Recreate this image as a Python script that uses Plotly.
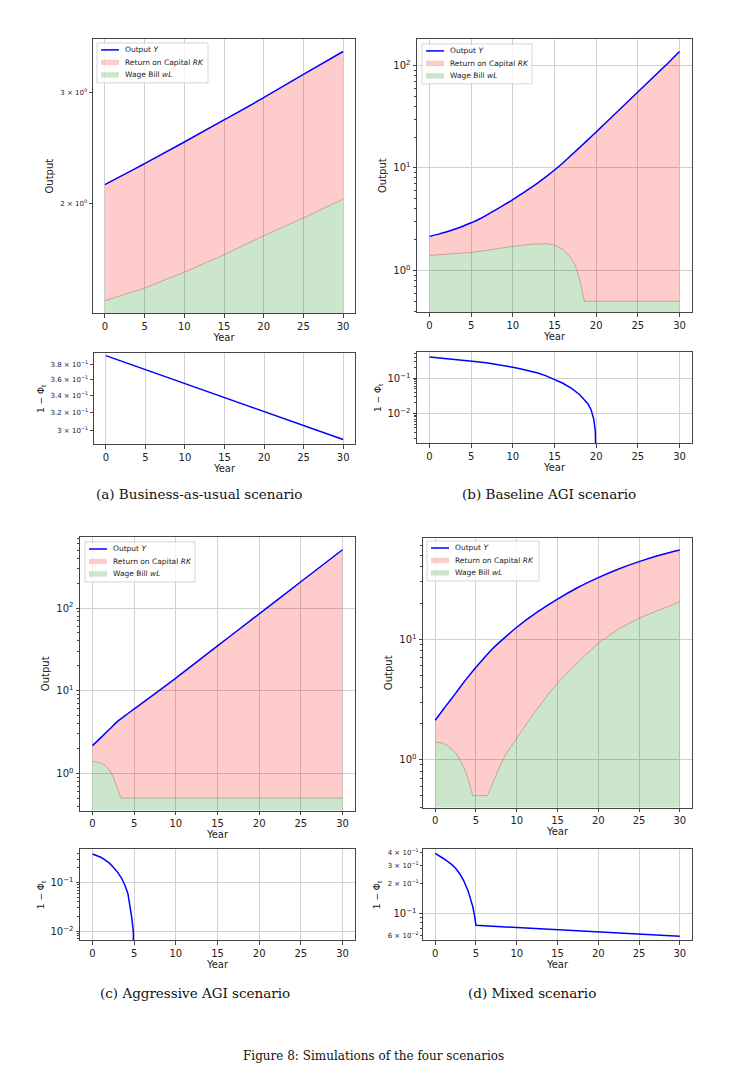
import plotly.graph_objects as go

W, H = 748, 1081

# ---- (a) Business-as-usual scenario
year_a = [0, 5, 10, 15, 20, 25, 30]
output_a = [2.14, 2.31, 2.50, 2.71, 2.94, 3.20, 3.48]
wage_a = [1.40, 1.466, 1.554, 1.656, 1.775, 1.894, 2.03]
phi_a = [0.3925, 0.3733, 0.3550, 0.3376, 0.3211, 0.3053, 0.2904]

# ---- (b) Baseline AGI scenario
year_b = list(range(0, 31))
output_b = [2.15, 2.25, 2.37, 2.52, 2.70, 2.92, 3.18, 3.53, 3.93, 4.39,
            4.92, 5.55, 6.28, 7.16, 8.24, 9.55, 11.2, 13.3, 15.8, 18.8,
            22.5, 26.9, 32.2, 38.5, 46.1, 55.2, 66.1, 79.1, 94.6, 113.5, 137.0]
wage_year_b = [0, 2.5, 5, 7.5, 10, 12.5, 14, 15, 16, 17, 17.5, 18, 18.3, 18.6, 30]
wage_b = [1.40, 1.44, 1.50, 1.60, 1.72, 1.81, 1.82, 1.77, 1.60, 1.32, 1.12, 0.82, 0.64, 0.50, 0.50]
phi_year_b = [0, 1, 2, 3, 4, 5, 6, 7, 8, 9, 10, 11, 12, 13, 14, 15, 16, 17, 18, 19,
              19.4, 19.7, 19.9, 20]
phi_b = [0.40, 0.382, 0.365, 0.348, 0.329, 0.31, 0.29, 0.27, 0.249, 0.228, 0.205,
         0.183, 0.162, 0.141, 0.117, 0.094, 0.0724, 0.0525, 0.0347, 0.019, 0.0126,
         0.0071, 0.0032, 0.0001]

# ---- (c) Aggressive AGI scenario
year_c = [0, 1, 2, 3, 4, 5, 10, 15, 20, 25, 30]
output_c = [2.16, 2.70, 3.38, 4.24, 5.05, 6.0, 14.2, 34.8, 85.0, 208.0, 508.0]
wage_year_c = [0, 1, 1.5, 2, 2.5, 2.9, 3.25, 3.5, 30]
wage_c = [1.40, 1.32, 1.24, 1.11, 0.895, 0.677, 0.552, 0.50, 0.50]
phi_year_c = [0, 0.5, 1, 1.5, 2, 2.5, 3, 3.5, 3.9, 4.25, 4.5, 4.7, 4.9, 5]
phi_c = [0.385, 0.359, 0.329, 0.292, 0.252, 0.206, 0.163, 0.122, 0.087, 0.059, 0.034,
         0.0195, 0.0098, 0.0001]

# ---- (d) Mixed scenario
year_d = [0, 1, 2, 3, 4, 5, 6, 7, 8, 10, 12.5, 15, 17.5, 20, 22.5, 25, 27.5, 30]
output_d = [2.12, 2.62, 3.20, 3.95, 4.84, 5.86, 7.0, 8.3, 9.6, 12.6, 16.8, 21.6,
            27.0, 32.6, 38.5, 44.3, 50.0, 55.3]
wage_year_d = [0, 1, 1.5, 2, 2.5, 3, 3.5, 4, 4.3, 4.6, 6.4, 7.3, 8.3, 9.1, 10, 11.25,
               12.5, 13.75, 15, 17.5, 20, 22.5, 25, 27.5, 30]
wage_d = [1.40, 1.36, 1.31, 1.23, 1.135, 1.0, 0.86, 0.70, 0.59, 0.50, 0.50, 0.70, 1.0,
          1.23, 1.49, 2.01, 2.65, 3.41, 4.32, 6.44, 9.27, 12.2, 15.0, 17.6, 20.5]
phi_year_d = [0, 1, 2, 2.5, 3, 3.5, 4, 4.3, 4.6, 4.8, 5, 10, 15, 20, 25, 30]
phi_d = [0.395, 0.352, 0.307, 0.281, 0.248, 0.211, 0.170, 0.144, 0.117, 0.097, 0.0759,
         0.0719, 0.0687, 0.0651, 0.0621, 0.0589]

captions = ["(a) Business-as-usual scenario", "(b) Baseline AGI scenario",
            "(c) Aggressive AGI scenario", "(d) Mixed scenario"]
figure_caption = "Figure 8: Simulations of the four scenarios"
legend_labels = ["Output <i>Y</i>", "Return on Capital <i>RK</i>", "Wage Bill <i>wL</i>"]
year_ticks = [0, 5, 10, 15, 20, 25, 30]

RED_FILL = "rgba(255,0,0,0.2)"
GREEN_FILL = "rgba(0,128,0,0.2)"
EDGE = "rgba(140,100,80,0.55)"
GRID = "#d0d0d0"
AXC = "#444444"
FONT = "DejaVu Sans"
SERIF = "DejaVu Serif"


def sup(s):
    return s.replace("^", "<sup>") + "</sup>"


def px(x):
    return x / W


def py(y):
    return 1 - y / H


# pixel boxes: (x0, x1, y0, y1), origin top-left
layout_cfg = [
    dict(top=(93, 355, 37, 312), bot=(94, 355, 352, 443),
         ytop=[0.126, 0.5615], ybot=[-0.5442, -0.4026],
         legend=(97, 41, 111), cap=(199, 493)),
    dict(top=(417, 692, 37, 311), bot=(417, 692, 351, 442),
         ytop=[-0.41, 2.26], ybot=[-2.84, -0.264],
         legend=(422, 42, 110), cap=(549, 493)),
    dict(top=(80, 355, 536, 810), bot=(80, 355, 849, 940),
         ytop=[-0.451, 2.86], ybot=[-2.185, -0.322],
         legend=(85, 541, 110), cap=(195, 993)),
    dict(top=(423, 692, 537, 807), bot=(423, 692, 849, 940),
         ytop=[-0.40, 1.843], ybot=[-1.27, -0.363],
         legend=(427, 540, 112), cap=(532, 993)),
]

data = [
    (year_a, output_a, year_a, wage_a, year_a, phi_a),
    (year_b, output_b, wage_year_b, wage_b, phi_year_b, phi_b),
    (year_c, output_c, wage_year_c, wage_c, phi_year_c, phi_c),
    (year_d, output_d, wage_year_d, wage_d, phi_year_d, phi_d),
]

minor_log = [m * 10 ** e for e in range(-3, 3) for m in range(2, 10)]

fig = go.Figure()
layout = dict(width=W, height=H, margin=dict(l=0, r=0, t=0, b=0),
              paper_bgcolor="white", plot_bgcolor="white", showlegend=False,
              font=dict(family=FONT, size=10, color="#222"), annotations=[], shapes=[])

axis_common = dict(showline=True, linecolor=AXC, linewidth=1, mirror=True,
                   ticks="outside", ticklen=3.5, tickcolor=AXC, zeroline=False,
                   gridcolor=GRID, gridwidth=0.8)

for i, (cfg, d) in enumerate(zip(layout_cfg, data)):
    yr, out, wyr, wage, pyr, phi = d
    t = 2 * i + 1
    b = 2 * i + 2
    xa_t, ya_t = f"x{t}", f"y{t}"
    xa_b, ya_b = f"x{b}", f"y{b}"

    fig.add_trace(go.Scatter(x=wyr, y=wage, mode="lines", fill="tozeroy",
                             fillcolor=GREEN_FILL, line=dict(width=0),
                             name="Wage Bill wL", xaxis=xa_t, yaxis=ya_t))
    fig.add_trace(go.Scatter(x=yr, y=out, mode="lines", fill="tonexty",
                             fillcolor=RED_FILL, line=dict(width=0, shape="spline"),
                             name="Return on Capital RK", xaxis=xa_t, yaxis=ya_t))
    fig.add_trace(go.Scatter(x=wyr, y=wage, mode="lines", line=dict(color=EDGE, width=0.8),
                             xaxis=xa_t, yaxis=ya_t))
    fig.add_trace(go.Scatter(x=yr, y=out, mode="lines",
                             line=dict(color="blue", width=1.5, shape="spline"),
                             name="Output Y", xaxis=xa_t, yaxis=ya_t))
    fig.add_trace(go.Scatter(x=pyr, y=phi, mode="lines", line=dict(color="blue", width=1.5),
                             name="1 - Phi", xaxis=xa_b, yaxis=ya_b))

    for n, box, yrange in ((t, cfg["top"], cfg["ytop"]), (b, cfg["bot"], cfg["ybot"])):
        layout[f"xaxis{n}"] = dict(domain=[px(box[0]), px(box[1])], anchor=f"y{n}",
                                   range=[-1.5, 31.5], tickvals=year_ticks, showgrid=True,
                                   title=dict(text="Year", font=dict(size=10), standoff=2),
                                   tickfont=dict(size=10), **axis_common)
        layout[f"yaxis{n}"] = dict(domain=[py(box[3]), py(box[2])], anchor=f"x{n}", type="log",
                                   range=yrange, showgrid=True,
                                   minor=dict(tickvals=minor_log, ticks="outside", ticklen=2,
                                              tickcolor=AXC, showgrid=False),
                                   **axis_common)

    layout[f"yaxis{t}"]["title"] = dict(text="Output", font=dict(size=10), standoff=4)
    layout[f"yaxis{b}"]["title"] = dict(text="1 − Φ<sub>t</sub>", font=dict(size=9), standoff=4)

    # legend box drawn like matplotlib's
    lx, ly, lw = cfg["legend"]
    layout["shapes"].append(dict(type="rect", xref="paper", yref="paper",
                                 x0=px(lx), x1=px(lx + lw), y0=py(ly), y1=py(ly + 40),
                                 fillcolor="rgba(255,255,255,0.8)",
                                 line=dict(color="#cccccc", width=0.8)))
    rows = [ly + 7, ly + 19.5, ly + 32]
    layout["shapes"].append(dict(type="line", xref="paper", yref="paper",
                                 x0=px(lx + 4), x1=px(lx + 22), y0=py(rows[0]), y1=py(rows[0]),
                                 line=dict(color="blue", width=1.5)))
    for r, col in ((rows[1], RED_FILL), (rows[2], GREEN_FILL)):
        layout["shapes"].append(dict(type="rect", xref="paper", yref="paper",
                                     x0=px(lx + 4), x1=px(lx + 22), y0=py(r - 2.7), y1=py(r + 2.7),
                                     fillcolor=col, line=dict(width=0)))
    for r, lab in zip(rows, legend_labels):
        layout["annotations"].append(dict(text=lab, x=px(lx + 26), y=py(r), xref="paper",
                                          yref="paper", xanchor="left", yanchor="middle",
                                          showarrow=False, font=dict(size=7.5, color="#222")))

    cx, cy = cfg["cap"]
    layout["annotations"].append(dict(text=captions[i], x=px(cx), y=py(cy), xref="paper",
                                      yref="paper", xanchor="center", yanchor="middle",
                                      showarrow=False,
                                      font=dict(family=SERIF, size=13.5, color="#111")))

# an invisible copy so the overlay axis of panel (d) is drawn
fig.add_trace(go.Scatter(x=phi_year_d, y=phi_d, mode="lines", line=dict(width=0),
                         hoverinfo="skip", xaxis="x8", yaxis="y9"))

# tick labels per axis
small = dict(size=7)
layout["yaxis1"].update(tickvals=[2, 3], ticktext=[sup("2 × 10^0"), sup("3 × 10^0")],
                        tickfont=small, showgrid=False)
layout["yaxis2"].update(tickvals=[0.3, 0.32, 0.34, 0.36, 0.38],
                        ticktext=[sup("3 × 10^−1"), sup("3.2 × 10^−1"), sup("3.4 × 10^−1"),
                                  sup("3.6 × 10^−1"), sup("3.8 × 10^−1")],
                        tickfont=small, showgrid=False)
decades = [0.01, 0.1, 1, 10, 100]
decade_text = [sup("10^−2"), sup("10^−1"), sup("10^0"), sup("10^1"), sup("10^2")]
for n in (3, 4, 5, 6, 7):
    layout[f"yaxis{n}"].update(tickvals=decades, ticktext=decade_text, tickfont=dict(size=10))
layout["yaxis8"].update(tickvals=[0.1], ticktext=[sup("10^−1")], tickfont=dict(size=10))
layout["yaxis8"]["title"]["standoff"] = 11
layout["yaxis9"] = dict(overlaying="y8", anchor="x8", type="log", range=layout["yaxis8"]["range"],
                        tickvals=[0.06, 0.2, 0.3, 0.4],
                        ticktext=[sup("6 × 10^−2"), sup("2 × 10^−1"), sup("3 × 10^−1"),
                                  sup("4 × 10^−1")],
                        tickfont=small, showgrid=False, ticks="outside", ticklen=2,
                        tickcolor=AXC, showline=False, zeroline=False, side="left")

layout["annotations"].append(dict(text=figure_caption, x=px(373), y=py(1056), xref="paper",
                                  yref="paper", xanchor="center", yanchor="middle",
                                  showarrow=False,
                                  font=dict(family=SERIF, size=12, color="#111")))

fig.update_layout(**layout)
# the page's default body margin would push the figure 8px off
fig.write_html("out.html", config={"displayModeBar": False},
               post_script="document.body.style.margin='0';")
